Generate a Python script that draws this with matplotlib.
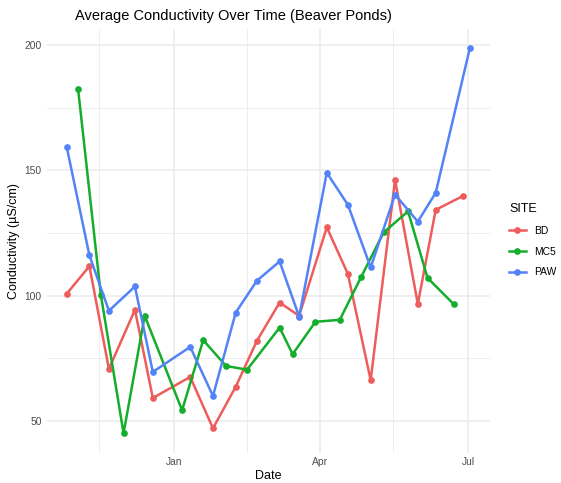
import matplotlib
matplotlib.use("Agg")
import matplotlib.pyplot as plt
import pandas as pd

# values
bd_dates = ["2022-10-27", "2022-11-10", "2022-11-22", "2022-12-08", "2022-12-19",
            "2023-01-11", "2023-01-25", "2023-02-08", "2023-02-21", "2023-03-07",
            "2023-03-19", "2023-04-05", "2023-04-18", "2023-05-02", "2023-05-17",
            "2023-05-31", "2023-06-11", "2023-06-28"]
bd_values = [100.8, 111.8, 70.8, 94.4, 59.2, 67.6, 47.1, 63.7, 82.0, 97.3,
             92.0, 127.3, 108.7, 66.3, 146.3, 96.7, 134.3, 139.9]

mc5_dates = ["2022-11-03", "2022-11-17", "2022-12-01", "2022-12-14", "2023-01-06",
             "2023-01-19", "2023-02-02", "2023-02-15", "2023-03-07", "2023-03-15",
             "2023-03-29", "2023-04-13", "2023-04-26", "2023-05-10", "2023-05-25",
             "2023-06-06", "2023-06-22"]
mc5_values = [182.7, 100.5, 45.1, 92.0, 54.3, 82.3, 72.0, 70.5, 87.3, 76.7,
              89.6, 90.4, 107.3, 125.3, 133.7, 107.1, 96.7]

paw_dates = ["2022-10-27", "2022-11-10", "2022-11-22", "2022-12-08", "2022-12-19",
             "2023-01-11", "2023-01-25", "2023-02-08", "2023-02-21", "2023-03-07",
             "2023-03-19", "2023-04-05", "2023-04-18", "2023-05-02", "2023-05-17",
             "2023-05-31", "2023-06-11", "2023-07-02"]
paw_values = [159.5, 116.1, 94.0, 103.7, 69.6, 79.6, 60.0, 93.3, 106.0, 113.7,
              91.7, 149.1, 136.3, 111.3, 140.4, 129.6, 141.1, 198.8]

sites = ["BD", "MC5", "PAW"]
colors = ["#EE5C5C", "#14AD2C", "#5283F7"]

major_ticks = ["2023-01-01", "2023-04-01", "2023-07-01"]
minor_ticks = ["2022-11-16", "2023-02-15", "2023-05-16"]
tick_labels = ["Jan", "Apr", "Jul"]

plt.rcParams["font.family"] = ["Liberation Sans", "DejaVu Sans"]

fig = plt.figure(figsize=(5.61, 4.83), dpi=100)
ax = fig.add_axes([46.5 / 561, 0.063, 443.5 / 561, 0.877])

series = [(bd_dates, bd_values), (mc5_dates, mc5_values), (paw_dates, paw_values)]
for name, col, (d, v) in zip(sites, colors, series):
    ax.plot(pd.to_datetime(d), v, color=col, linewidth=1.8, marker="o",
            markersize=3.8, label=name, solid_joinstyle="round")

# ggplot-like 5% expansion
all_d = pd.to_datetime(bd_dates + mc5_dates + paw_dates)
all_v = bd_values + mc5_values + paw_values
span = all_d.max() - all_d.min()
ax.set_xlim(all_d.min() - span * 0.05, all_d.max() + span * 0.05)
vr = max(all_v) - min(all_v)
ax.set_ylim(min(all_v) - vr * 0.05, max(all_v) + vr * 0.05)

ax.set_xticks(pd.to_datetime(major_ticks))
ax.set_xticklabels(tick_labels)
ax.set_xticks(pd.to_datetime(minor_ticks), minor=True)
ax.set_yticks([50, 100, 150, 200])
ax.set_yticks([75, 125, 175], minor=True)

ax.grid(True, which="major", color="#EBEBEB", linewidth=1.1)
ax.grid(True, which="minor", color="#EBEBEB", linewidth=0.6)
ax.set_axisbelow(True)
for s in ax.spines.values():
    s.set_visible(False)
ax.tick_params(which="both", length=0, labelsize=7.4, labelcolor="#4D4D4D", pad=3.5)

ax.set_xlabel("Date", fontsize=9, labelpad=2)
ax.set_ylabel("Conductivity (µS/cm)", fontsize=9, labelpad=3)
fig.text(75 / 561, 1 - 16 / 483, "Average Conductivity Over Time (Beaver Ponds)",
         fontsize=10.5, ha="left", va="center")

leg = ax.legend(loc="upper left", bbox_to_anchor=(505 / 561, 1 - 199 / 483),
                bbox_transform=fig.transFigure, frameon=False, title="SITE",
                fontsize=7.4, title_fontsize=9, handlelength=1.6,
                labelspacing=1.05, borderaxespad=0)
leg._legend_box.align = "left"

fig.savefig("out.png", dpi=100)
